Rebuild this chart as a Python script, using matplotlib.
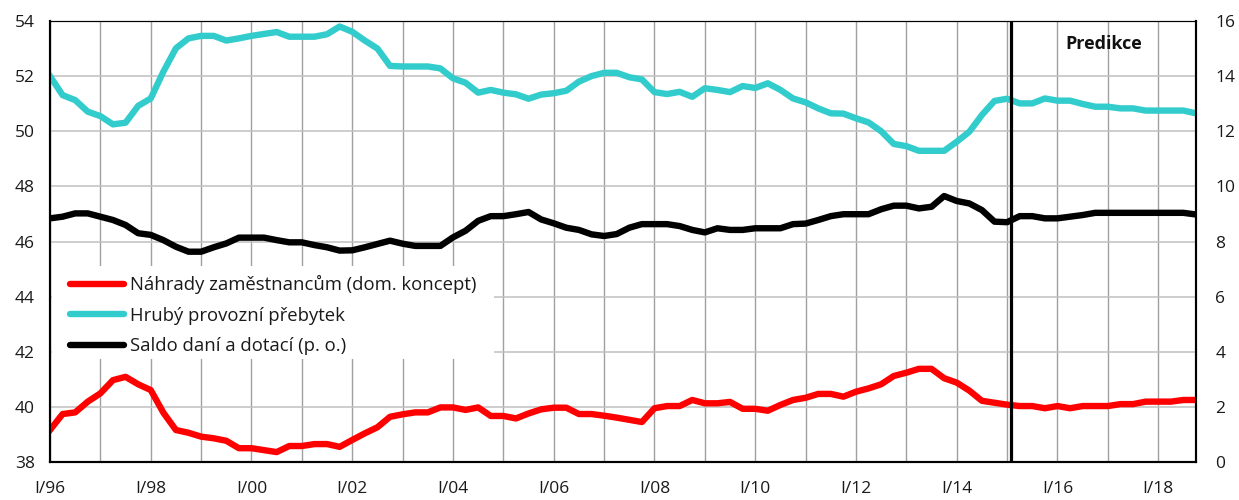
import matplotlib
matplotlib.use("Agg")
import matplotlib.pyplot as plt
from matplotlib.lines import Line2D
from matplotlib.patches import Rectangle

plt.rcParams['font.family'] = ['Open Sans', 'DejaVu Sans']

# Quarterly shares, I/96 .. IV/18
years = list(range(1996, 2019))
quarters = [f"{q}/{str(y)[2:]}" for y in years for q in ("I", "II", "III", "IV")]

compensation = [
    39.16, 39.74, 39.80, 40.19, 40.49, 40.97, 41.09, 40.82, 40.61, 39.79,
    39.16, 39.06, 38.92, 38.86, 38.77, 38.50, 38.50, 38.43, 38.36, 38.58,
    38.58, 38.65, 38.65, 38.55, 38.80, 39.04, 39.26, 39.64, 39.73, 39.80,
    39.80, 39.98, 39.98, 39.89, 39.98, 39.67, 39.67, 39.58, 39.76, 39.91,
    39.97, 39.97, 39.74, 39.74, 39.68, 39.61, 39.53, 39.45, 39.95, 40.03,
    40.03, 40.25, 40.13, 40.13, 40.18, 39.93, 39.93, 39.86, 40.07, 40.25,
    40.33, 40.47, 40.47, 40.37, 40.55, 40.67, 40.82, 41.12, 41.24, 41.38,
    41.38, 41.04, 40.88, 40.59, 40.22, 40.15, 40.08, 40.03, 40.03, 39.95,
    40.03, 39.95, 40.03, 40.03, 40.03, 40.10, 40.10, 40.19, 40.19, 40.19,
    40.25, 40.25,
]

surplus = [
    52.00, 51.31, 51.13, 50.71, 50.55, 50.25, 50.31, 50.92, 51.19, 52.16,
    53.01, 53.37, 53.46, 53.46, 53.29, 53.37, 53.46, 53.53, 53.60, 53.43,
    53.43, 53.43, 53.52, 53.80, 53.61, 53.29, 53.00, 52.37, 52.35, 52.35,
    52.35, 52.28, 51.92, 51.76, 51.40, 51.50, 51.40, 51.34, 51.18, 51.33,
    51.38, 51.47, 51.80, 52.00, 52.12, 52.12, 51.96, 51.88, 51.42, 51.35,
    51.43, 51.25, 51.56, 51.50, 51.42, 51.64, 51.57, 51.74, 51.50, 51.19,
    51.05, 50.83, 50.65, 50.64, 50.47, 50.32, 50.00, 49.54, 49.46, 49.29,
    49.29, 49.29, 49.62, 49.98, 50.59, 51.10, 51.18, 51.01, 51.01, 51.19,
    51.11, 51.11, 50.99, 50.89, 50.89, 50.83, 50.83, 50.75, 50.75, 50.75,
    50.75, 50.65,
]

taxes_subsidies = [
    8.84, 8.90, 9.02, 9.02, 8.90, 8.78, 8.60, 8.30, 8.24, 8.05,
    7.81, 7.63, 7.63, 7.79, 7.93, 8.14, 8.14, 8.14, 8.05, 7.97,
    7.97, 7.87, 7.79, 7.67, 7.68, 7.79, 7.91, 8.03, 7.92, 7.84,
    7.84, 7.84, 8.15, 8.39, 8.75, 8.92, 8.92, 8.99, 9.07, 8.80,
    8.66, 8.50, 8.42, 8.26, 8.20, 8.27, 8.50, 8.63, 8.63, 8.63,
    8.56, 8.42, 8.33, 8.48, 8.42, 8.42, 8.48, 8.48, 8.48, 8.63,
    8.65, 8.78, 8.92, 8.99, 8.99, 8.99, 9.17, 9.30, 9.30, 9.20,
    9.26, 9.65, 9.47, 9.38, 9.14, 8.72, 8.70, 8.92, 8.92, 8.84,
    8.84, 8.90, 8.96, 9.04, 9.04, 9.04, 9.04, 9.04, 9.04, 9.04,
    9.04, 8.98,
]

series_labels = [
    "Náhrady zaměstnancům (dom. koncept)",
    "Hrubý provozní přebytek",
    "Saldo daní a dotací (p. o.)",
]
series_colors = ["#ff0000", "#33cccc", "#000000"]

forecast_start = 76.3  # just after I/15
forecast_label = "Predikce"

left_ticks = list(range(38, 55, 2))
right_ticks = list(range(0, 17, 2))

W, H = 1239, 500
fig = plt.figure(figsize=(W / 100, H / 100), dpi=100)
ax = fig.add_axes([50 / W, 38 / H, 1146 / W, 441 / H])
ax2 = ax.twinx()

x = list(range(len(quarters)))
lw = 4.6
ax.plot(x, compensation, color=series_colors[0], lw=lw, solid_joinstyle="round", zorder=3)
ax.plot(x, surplus, color=series_colors[1], lw=lw, solid_joinstyle="round", zorder=3)
ax2.plot(x, taxes_subsidies, color=series_colors[2], lw=lw, solid_joinstyle="round", zorder=3)

ax.set_xlim(0, len(quarters) - 1)
ax.set_ylim(left_ticks[0], left_ticks[-1])
ax2.set_ylim(right_ticks[0], right_ticks[-1])

major = list(range(0, len(quarters), 8))
minor = [i for i in range(0, len(quarters), 4) if i not in major]
ax.set_xticks(major)
ax.set_xticklabels([quarters[i] for i in major])
ax.set_xticks(minor, minor=True)
ax.set_yticks(left_ticks)
ax2.set_yticks(right_ticks)

ax.grid(axis="x", which="both", color="#a0a0a0", lw=1.0, zorder=0)
ax.grid(axis="y", which="major", color="#c0c0c0", lw=1.1, zorder=0)
ax.set_axisbelow(True)

tick_color = "#1a1a1a"
fs = 12.5
ax.tick_params(axis="both", which="both", length=0, labelsize=fs, colors=tick_color)
ax.tick_params(axis="x", pad=14)
ax.tick_params(axis="y", pad=11)
ax2.tick_params(axis="y", length=0, labelsize=fs, colors=tick_color, pad=14)

for s in ax.spines.values():
    s.set_color("black")
    s.set_linewidth(1.5)
ax.spines["top"].set_linewidth(0.8)
for s in ax2.spines.values():
    s.set_color("black")
    s.set_linewidth(1.5)
ax2.spines["top"].set_linewidth(0.8)

ax2.axvline(forecast_start, color="black", lw=2.3, zorder=4)
ax2.text(83.7, 15.17, forecast_label, fontsize=13, fontweight="bold",
         ha="center", va="center", color="#111111")

# white panel behind the legend hides the grid there
to_px = lambda px: (px - 50) / 1146
to_py = lambda py: (462 - py) / 441
ax2.add_patch(Rectangle((to_px(51.5), to_py(359)), to_px(494) - to_px(51.5),
                        to_py(266) - to_py(359), transform=ax2.transAxes,
                        facecolor="white", edgecolor="none", zorder=2))

handles = [Line2D([0], [0], color=c, lw=lw, solid_capstyle="round") for c in series_colors]
leg = ax2.legend(handles, series_labels, loc="upper left",
                 bbox_to_anchor=(to_px(70), to_py(275)),
                 frameon=False, fontsize=13.3, handlelength=2.95, handletextpad=0.3,
                 labelspacing=0.68, borderpad=0.0, borderaxespad=0.0)
for t in leg.get_texts():
    t.set_color(tick_color)
leg.set_zorder(5)

fig.savefig("out.png", dpi=100)
